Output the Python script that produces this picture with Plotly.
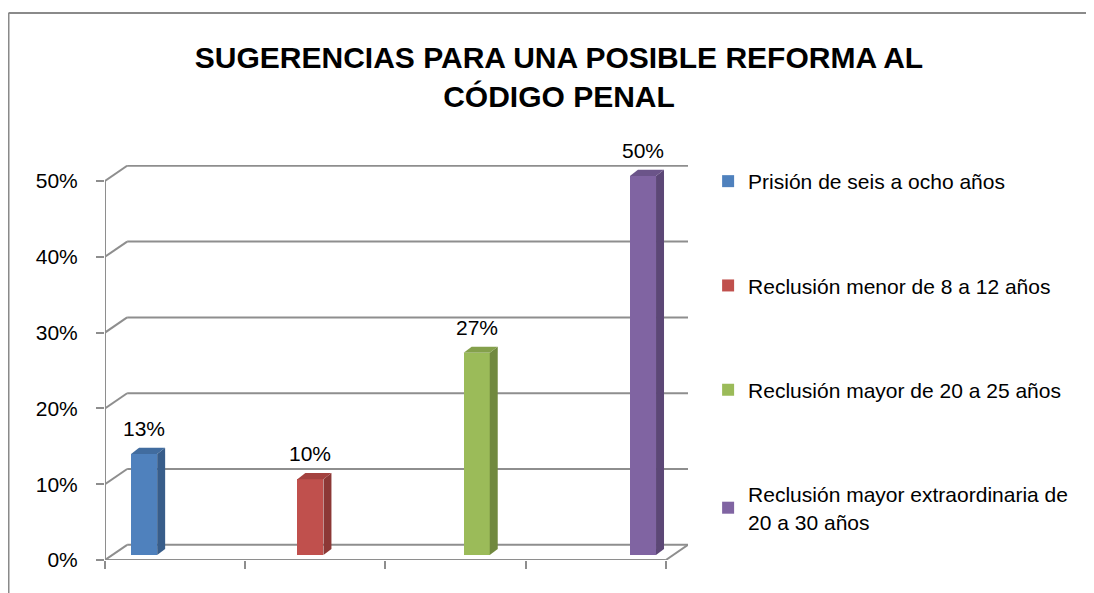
import plotly.graph_objects as go

# ---------------- data ----------------
categories = [
    "Prisión de seis a ocho años",
    "Reclusión menor de 8 a 12 años",
    "Reclusión mayor de 20 a 25 años",
    "Reclusión mayor extraordinaria de<br>20 a 30 años",
]
values = [13.33, 10.0, 26.67, 50.0]
value_labels = ["13%", "10%", "27%", "50%"]
tick_vals = [0, 10, 20, 30, 40, 50]
tick_text = ["0%", "10%", "20%", "30%", "40%", "50%"]
title_text = "SUGERENCIAS PARA UNA POSIBLE REFORMA AL<br>CÓDIGO PENAL"

front_colors = ["#4F81BD", "#C0504D", "#9BBB59", "#8064A2"]
side_colors = ["#385D8A", "#8C3836", "#71893F", "#5C4776"]
top_colors = ["#416C9F", "#A4423F", "#84A04B", "#6B5489"]

# ---------------- geometry (3D look) ----------------
n_cat = len(categories)
wall_dx = 0.158      # depth offset of the back wall, x units
wall_dy = 2.0        # depth offset of the back wall, y units
slot = 0.186         # width of each bar
bar_base = 0.66      # bars stand slightly behind the front floor edge
bar_dx = 0.057       # bar depth (side face) in x units
bar_dy = 0.8         # bar depth in y units
cluster_shift = 0.058

grid_color = "#8E8E8E"
font_family = "Liberation Sans, Arial, sans-serif"

fig = go.Figure()

for i, (name, v) in enumerate(zip(categories, values)):
    xc = i + 0.5 + cluster_shift + (i - (n_cat - 1) / 2) * slot
    xl, xr = xc - slot / 2, xc + slot / 2
    top = bar_base + v
    fig.add_trace(go.Bar(
        x=[xc], y=[v], base=[bar_base], width=[slot],
        marker=dict(color=front_colors[i], line=dict(width=0)),
        name=name, legendgroup=f"g{i}", hoverinfo="skip",
    ))
    # side face
    fig.add_trace(go.Scatter(
        x=[xr, xr + bar_dx, xr + bar_dx, xr, xr],
        y=[bar_base, bar_base + bar_dy, top + bar_dy, top, bar_base],
        fill="toself", fillcolor=side_colors[i], mode="lines",
        line=dict(width=0, color=side_colors[i]),
        showlegend=False, hoverinfo="skip", legendgroup=f"g{i}",
    ))
    # top face
    fig.add_trace(go.Scatter(
        x=[xl, xl + bar_dx, xr + bar_dx, xr, xl],
        y=[top, top + bar_dy, top + bar_dy, top, top],
        fill="toself", fillcolor=top_colors[i], mode="lines",
        line=dict(width=0, color=top_colors[i]),
        showlegend=False, hoverinfo="skip", legendgroup=f"g{i}",
    ))
    fig.add_annotation(
        x=xc, y=top + bar_dy, text=value_labels[i], showarrow=False,
        yanchor="bottom", yshift=6,
        font=dict(family=font_family, size=21, color="#000000"),
    )

# ---------------- walls / gridlines ----------------
shapes = []
x_end = n_cat + wall_dx
for v in tick_vals:
    shapes.append(dict(type="line", x0=0, y0=v, x1=wall_dx, y1=v + wall_dy,
                       line=dict(color=grid_color, width=2), layer="below"))
    shapes.append(dict(type="line", x0=wall_dx, y0=v + wall_dy, x1=x_end, y1=v + wall_dy,
                       line=dict(color=grid_color, width=2), layer="below"))
# front vertical axis line
shapes.append(dict(type="line", x0=0, y0=0, x1=0, y1=tick_vals[-1],
                   line=dict(color=grid_color, width=2), layer="below"))
# front floor edge
shapes.append(dict(type="line", x0=0, y0=0, x1=n_cat, y1=0,
                   line=dict(color=grid_color, width=2), layer="below"))
# right floor edge
shapes.append(dict(type="line", x0=n_cat, y0=0, x1=x_end, y1=wall_dy,
                   line=dict(color=grid_color, width=2), layer="below"))
# outer chart border (left and top)
shapes.append(dict(type="line", xref="paper", yref="paper",
                   x0=-0.1655, y0=-0.1, x1=-0.1655, y1=1.371,
                   line=dict(color="#8A8A8A", width=2)))
shapes.append(dict(type="line", xref="paper", yref="paper",
                   x0=-0.1655, y0=1.371, x1=1.72, y1=1.371,
                   line=dict(color="#8A8A8A", width=2)))

# page body has an 8px margin, so the figure is drawn 8px smaller and offset
fig.update_layout(
    width=1086, height=585, autosize=False,
    margin=dict(l=97, r=406, t=153, b=33),
    paper_bgcolor="white", plot_bgcolor="white",
    shapes=shapes,
    showlegend=True,
    title=dict(
        text=title_text, x=551 / 1086, xref="container", xanchor="center",
        y=1 - 60 / 585, yref="container", yanchor="middle",
        font=dict(family=font_family, size=30, color="#000000", weight="bold"),
    ),
    legend=dict(
        x=1.0345, xanchor="left", y=1.0, yanchor="top",
        traceorder="grouped", tracegroupgap=74,
        font=dict(family=font_family, size=21, color="#000000"),
        bgcolor="rgba(0,0,0,0)", borderwidth=0,
    ),
    xaxis=dict(
        range=[0, x_end], showgrid=False, zeroline=False, showline=False,
        tickmode="array", tickvals=list(range(n_cat + 1)), ticktext=[""] * (n_cat + 1),
        ticks="outside", ticklen=8, tickwidth=2, tickcolor=grid_color,
        fixedrange=True,
    ),
    yaxis=dict(
        domain=[0, 395 / 399],
        range=[0, tick_vals[-1] + wall_dy + 0.1], showgrid=False, zeroline=False, showline=False,
        tickmode="array", tickvals=tick_vals, ticktext=tick_text,
        ticks="outside", ticklen=8, tickwidth=2, tickcolor=grid_color,
        ticklabelstandoff=14,
        tickfont=dict(family=font_family, size=21, color="#000000"),
        fixedrange=True,
    ),
    bargap=0,
)

fig.write_html("out.html")
